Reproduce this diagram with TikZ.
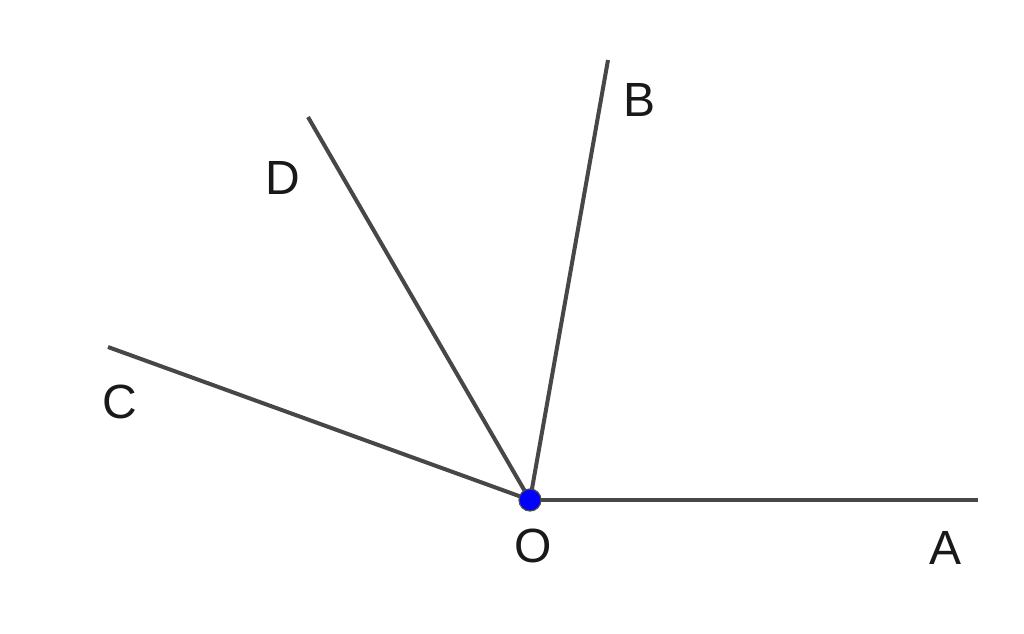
\documentclass[tikz,border=0pt]{standalone}
\usepackage{fontspec}
\setmainfont{Liberation Sans}
\begin{document}
\begin{tikzpicture}[x=0.5pt,y=-0.5pt,
  ray/.style={draw=black!72, line width=2pt},
  lbl/.style={font=\fontsize{24}{28}\selectfont, text=black!90, inner sep=0pt},
  pt/.style={circle, fill=blue, draw=black!70, line width=0.6pt, minimum size=11pt, inner sep=0pt}]
\useasboundingbox (0,0) rectangle (1024,633);
\coordinate (O) at (530,500);
\coordinate (A) at (978,500);
\coordinate (B) at (608,60);
\coordinate (D) at (308,117);
\coordinate (C) at (108,347);
\draw[ray] (O) -- (A);
\draw[ray] (O) -- (B);
\draw[ray] (O) -- (D);
\draw[ray] (O) -- (C);
\node[pt] (Odot) at (O) {};
\node[lbl] (lA) at (946,548) {A};
\node[lbl] (lB) at (640,100) {B};
\node[lbl] (lC) at (120,402) {C};
\node[lbl] (lD) at (283,178) {D};
\node[lbl] (lO) at (533,546) {O};
\end{tikzpicture}
\end{document}
